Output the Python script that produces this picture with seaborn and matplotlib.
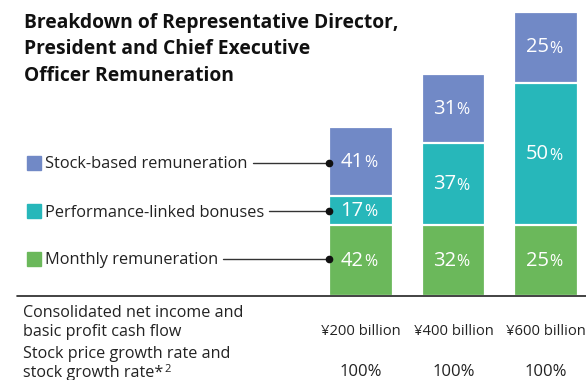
import matplotlib
matplotlib.use("Agg")
import matplotlib.pyplot as plt
import seaborn as sns
import pandas as pd

# ---- data ----
income_levels = ["¥200 billion", "¥400 billion", "¥600 billion"]
stock_growth = ["100%", "100%", "100%"]
monthly_pct = [42, 32, 25]
bonus_pct = [17, 37, 50]
stock_pct = [41, 31, 25]
# total remuneration, relative to monthly remuneration (= 1)
total_index = [2.38, 3.125, 4.0]

components = ["Stock-based remuneration", "Performance-linked bonuses", "Monthly remuneration"]
colors = {"Stock-based remuneration": "#7189C6",
          "Performance-linked bonuses": "#27B7BA",
          "Monthly remuneration": "#6BB85B"}

monthly_amt = [p / 100 * t for p, t in zip(monthly_pct, total_index)]
bonus_amt = [p / 100 * t for p, t in zip(bonus_pct, total_index)]
stock_amt = [p / 100 * t for p, t in zip(stock_pct, total_index)]

df = pd.DataFrame({
    "level": income_levels,
    "monthly": monthly_amt,
    "bonus": bonus_amt,
    "stock": stock_amt,
})
df["cum_bonus"] = df["monthly"] + df["bonus"]
df["cum_stock"] = df["cum_bonus"] + df["stock"]

W, H = 586, 380
sns.set_theme(style="white")
plt.rcParams["font.family"] = ["Open Sans", "DejaVu Sans"]
fig = plt.figure(figsize=(W / 100, H / 100), dpi=100)

base_px = 296
ax = fig.add_axes([0, (H - base_px) / H, 1, base_px / H])
x0_px, step_px = 361, 92.5
ymax = 4.0 * base_px / 284

# stacked bars drawn as cumulative layers, white edges separate the segments
for col, comp in [("cum_stock", components[0]), ("cum_bonus", components[1]), ("monthly", components[2])]:
    sns.barplot(data=df, x="level", y=col, color=colors[comp], width=0.69,
                edgecolor="white", linewidth=1.6, saturation=1, ax=ax)

ax.set_xlim(-x0_px / step_px, (W - x0_px) / step_px)
ax.set_ylim(0, ymax)
ax.axis("off")
ax.axhline(0, xmin=17 / W, xmax=1, color="#222222", lw=1.2, clip_on=False)

def seg_label(i, y, pct):
    ax.text(i + 0.03, y, f"{pct}", ha="right", va="center", color="white", fontsize=14.5)
    ax.text(i + 0.035, y - 0.025, "%", ha="left", va="center", color="white", fontsize=11.5)

for i in range(3):
    seg_label(i, monthly_amt[i] / 2, monthly_pct[i])
    seg_label(i, monthly_amt[i] + bonus_amt[i] / 2, bonus_pct[i])
    seg_label(i, monthly_amt[i] + bonus_amt[i] + stock_amt[i] / 2, stock_pct[i])

def fx(px):
    return px / W

def fy(py):
    return 1 - py / H

# title
title_lines = ["Breakdown of Representative Director,",
               "President and Chief Executive",
               "Officer Remuneration"]
for line, py in zip(title_lines, [28, 54.5, 81]):
    fig.text(fx(24), fy(py), line, ha="left", va="baseline",
             fontsize=13.9, fontweight="bold", color="#111111")

# legend with leader lines to the first bar
leg_y = [163, 211, 259]
fig.canvas.draw()
renderer = fig.canvas.get_renderer()
bar_left_px = x0_px - 0.69 / 2 * step_px
for comp, py in zip(components, leg_y):
    fig.patches.append(plt.Rectangle((fx(27), fy(py + 7)), 14 / W, 14 / H,
                                     transform=fig.transFigure, color=colors[comp]))
    t = fig.text(fx(45), fy(py + 5.5), comp, ha="left", va="baseline", fontsize=11.8, color="#222222")
    bb = t.get_window_extent(renderer)
    start = bb.x1 + 5
    fig.add_artist(plt.Line2D([start / W, fx(bar_left_px)], [fy(py), fy(py)],
                              transform=fig.transFigure, color="#333333", lw=1))
    fig.add_artist(plt.Line2D([fx(bar_left_px)], [fy(py)], transform=fig.transFigure,
                              marker="o", markersize=4.5, color="#111111"))

# table below the baseline
row_text = [(317, "Consolidated net income and"), (336, "basic profit cash flow"),
            (358, "Stock price growth rate and"), (377, "stock growth rate*")]
last = None
for py, s in row_text:
    last = fig.text(fx(23), fy(py), s, ha="left", va="baseline", fontsize=11.6, color="#222222")
# footnote marker as a raised small figure
bb = last.get_window_extent(renderer)
fig.text((bb.x1 + 1) / W, fy(382 - 10), "2", ha="left", va="baseline", fontsize=8, color="#222222")

for i in range(3):
    cx = x0_px + i * step_px
    fig.text(fx(cx), fy(335), income_levels[i], ha="center", va="baseline", fontsize=10.6, color="#222222")
    fig.text(fx(cx), fy(376.5), stock_growth[i], ha="center", va="baseline", fontsize=12, color="#222222")

fig.savefig("out.png", dpi=100)
